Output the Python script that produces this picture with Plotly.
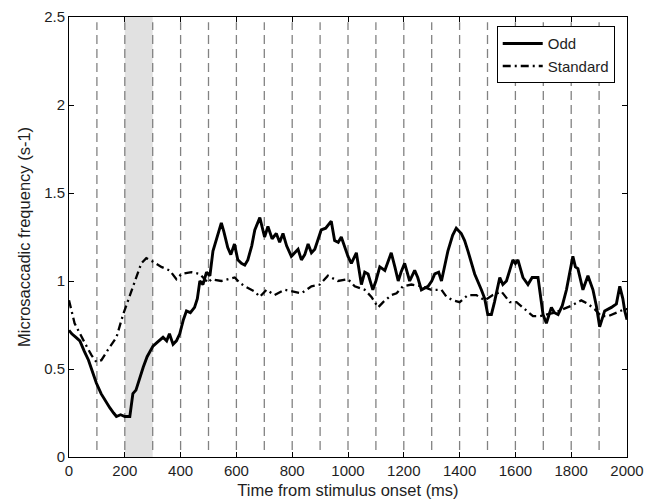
import plotly.graph_objects as go

# ---- data ----
odd_t = [0, 10, 25, 39, 55, 70, 85, 98, 115, 130, 146, 160, 170, 185, 200, 218, 229, 240, 255, 266,
         280, 301, 315, 337, 350, 360, 373, 385, 397, 410, 421, 435, 450, 460, 469, 480, 493, 505, 516, 530,
         546, 555, 569, 580, 593, 605, 618, 630, 641, 655, 666, 684, 692, 701, 713, 728, 743, 755, 767, 780,
         797, 810, 821, 833, 845, 857, 869, 881, 893, 904, 920, 940, 952, 965, 976, 990, 1000, 1012, 1030, 1048,
         1060, 1072, 1089, 1100, 1114, 1132, 1155, 1168, 1180, 1190, 1203, 1221, 1239, 1250, 1263, 1287, 1300, 1311, 1325, 1335,
         1358, 1375, 1388, 1406, 1418, 1430, 1454, 1478, 1490, 1501, 1514, 1525, 1544, 1555, 1568, 1591, 1600, 1609, 1627, 1645,
         1660, 1681, 1699, 1711, 1729, 1740, 1753, 1768, 1783, 1806, 1815, 1824, 1842, 1860, 1878, 1890, 1902, 1920, 1944, 1962,
         1974, 1985, 1992, 2000]
odd_v = [0.72, 0.70, 0.68, 0.66, 0.60, 0.55, 0.48, 0.42, 0.36, 0.32, 0.28, 0.25, 0.23, 0.24, 0.23, 0.23, 0.36, 0.38, 0.46, 0.51,
         0.57, 0.63, 0.65, 0.68, 0.66, 0.70, 0.64, 0.66, 0.70, 0.78, 0.83, 0.82, 0.85, 0.90, 1.00, 0.98, 1.05, 1.03, 1.17, 1.25,
         1.33, 1.28, 1.19, 1.15, 1.21, 1.12, 1.10, 1.09, 1.12, 1.20, 1.29, 1.36, 1.30, 1.25, 1.31, 1.24, 1.27, 1.22, 1.27, 1.20,
         1.14, 1.16, 1.18, 1.12, 1.15, 1.21, 1.16, 1.18, 1.24, 1.29, 1.30, 1.34, 1.23, 1.22, 1.25, 1.18, 1.14, 1.10, 1.16, 0.98,
         1.05, 1.04, 0.95, 1.00, 1.08, 1.06, 1.16, 1.08, 1.00, 1.05, 1.10, 1.00, 1.06, 1.02, 0.95, 0.97, 1.00, 1.04, 1.05, 1.00,
         1.17, 1.26, 1.30, 1.27, 1.23, 1.17, 1.04, 0.95, 0.90, 0.81, 0.81, 0.88, 1.02, 0.98, 1.00, 1.12, 1.10, 1.12, 1.02, 0.98,
         1.02, 1.02, 0.81, 0.76, 0.85, 0.82, 0.81, 0.86, 0.95, 1.14, 1.08, 1.07, 0.95, 1.03, 0.95, 0.86, 0.74, 0.83, 0.85, 0.87,
         0.97, 0.90, 0.83, 0.78]

std_t = [0, 20, 56, 80, 98, 116, 140, 170, 194, 212, 235, 259, 277, 301, 331, 361, 385, 403, 439, 469,
         498, 510, 546, 594, 612, 630, 666, 684, 708, 737, 773, 809, 833, 869, 899, 928, 964, 1000, 1024, 1060,
         1084, 1108, 1126, 1155, 1174, 1197, 1227, 1263, 1299, 1335, 1353, 1377, 1400, 1430, 1460, 1490, 1519, 1550, 1580, 1604,
         1633, 1663, 1687, 1711, 1741, 1771, 1801, 1836, 1860, 1884, 1908, 1932, 1962, 1992, 2000]
std_v = [0.89, 0.76, 0.65, 0.58, 0.54, 0.55, 0.61, 0.68, 0.81, 0.89, 1.00, 1.10, 1.13, 1.11, 1.08, 1.06, 1.01, 1.04, 1.05, 1.04,
         0.99, 1.01, 1.00, 1.02, 0.99, 0.97, 0.94, 0.91, 0.95, 0.92, 0.95, 0.94, 0.93, 0.97, 0.98, 1.03, 1.00, 1.01, 0.97, 0.95,
         0.91, 0.85, 0.88, 0.92, 0.93, 0.97, 0.98, 0.97, 0.95, 0.95, 0.91, 0.89, 0.88, 0.92, 0.92, 0.89, 0.92, 0.94, 0.88, 0.88,
         0.84, 0.80, 0.80, 0.81, 0.82, 0.84, 0.86, 0.89, 0.87, 0.84, 0.80, 0.80, 0.82, 0.84, 0.84]

event_times = [100, 200, 300, 400, 500, 600, 700, 800, 900, 1000,
               1100, 1200, 1300, 1400, 1500, 1600, 1700, 1800, 1900]
shade_window = [200, 300]
x_ticks = [0, 200, 400, 600, 800, 1000, 1200, 1400, 1600, 1800, 2000]
y_ticks = [0, 0.5, 1, 1.5, 2, 2.5]
y_tick_labels = ["0", "0.5", "1", "1.5", "2", "2.5"]
x_title = "Time from stimulus onset (ms)"
y_title = "Microsaccadic frequency (s-1)"

FONT = "Liberation Sans, Arial"
TXT = "#1e1e1e"

fig = go.Figure()

# shaded window
fig.add_shape(type="rect", xref="x", yref="y", x0=shade_window[0], x1=shade_window[1],
              y0=0, y1=2.5, fillcolor="#e1e1e1", line_width=0, layer="below")
# dashed event lines
for t in event_times:
    fig.add_shape(type="line", xref="x", yref="y", x0=t, x1=t, y0=0.04, y1=2.47,
                  line=dict(color="#828282", width=1.3, dash="9px,5px"), layer="below")

fig.add_trace(go.Scatter(x=odd_t, y=odd_v, mode="lines", name="Odd",
                         line=dict(color="black", width=2.9)))
fig.add_trace(go.Scatter(x=std_t, y=std_v, mode="lines", name="Standard",
                         line=dict(color="black", width=2.3, dash="8px,4px,2px,4px")))

axis_common = dict(showgrid=False, zeroline=False, showline=True, linecolor="black", linewidth=1,
                   mirror="ticks", ticks="inside", ticklen=5, tickcolor="black", automargin=False,
                   tickfont=dict(family=FONT, size=15, color=TXT))

# y-axis title as a rotated text annotation to place it like the reference
fig.add_annotation(text=y_title, xref="paper", yref="paper", x=0, y=0.5,
                   xanchor="center", yanchor="middle", xshift=-45, textangle=-90,
                   showarrow=False, font=dict(family=FONT, size=16.5, color=TXT))

fig.update_layout(
    width=653, height=503,
    margin=dict(l=69, r=26, t=17, b=46, autoexpand=False),
    paper_bgcolor="white", plot_bgcolor="white",
    font=dict(family=FONT, size=15, color=TXT),
    xaxis=dict(range=[0, 2000], tickvals=x_ticks, ticktext=[str(v) for v in x_ticks],
               title=dict(text=x_title, standoff=6,
                          font=dict(family=FONT, size=16.5, color=TXT)), **axis_common),
    yaxis=dict(range=[0, 2.5], tickvals=y_ticks, ticktext=y_tick_labels, **axis_common),
    legend=dict(x=0.978, y=0.979, xanchor="right", yanchor="top",
                bgcolor="white", bordercolor="black", borderwidth=1,
                font=dict(family=FONT, size=15, color=TXT),
                tracegroupgap=0, itemwidth=40),
    showlegend=True,
)

fig.write_html("out.html")
